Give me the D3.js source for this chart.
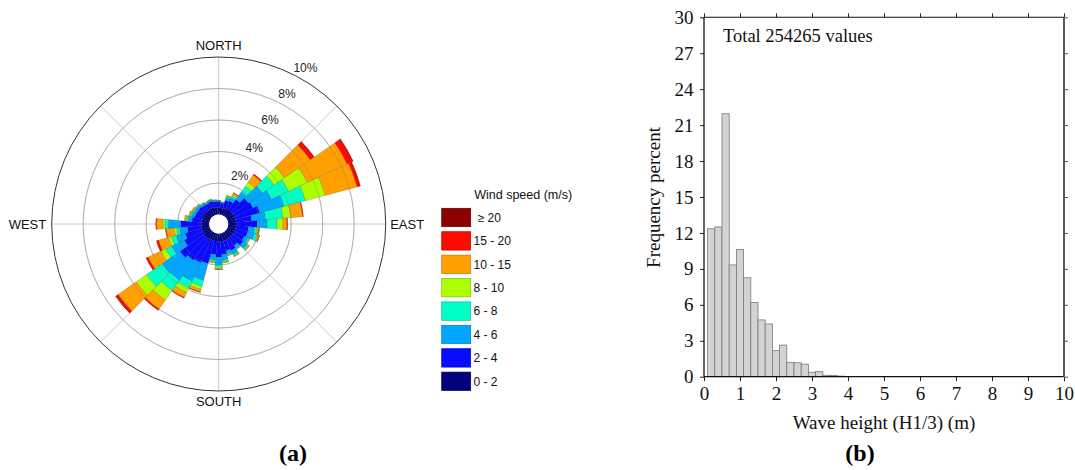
<!DOCTYPE html>
<html><head><meta charset="utf-8">
<script src="https://cdn.jsdelivr.net/npm/d3@7/dist/d3.min.js"></script>
<style>body{margin:0;background:#fff}svg{display:block}</style>
</head><body>
<svg id="c" width="1075" height="470"></svg>
<script>
// ---------- Wind rose data (percent per direction & speed class) ----------
const directions = [0,10,20,30,40,50,60,70,80,90,100,110,120,130,140,150,160,170,180,190,200,210,220,230,240,250,260,270,280,290,300,310,320,330,340,350];
const speedLabels = ["0 - 2","2 - 4","4 - 6","6 - 8","8 - 10","10 - 15","15 - 20","\u2265 20"];
const speedColors = ["#00007f","#0a0aff","#00a6ff","#00ffc4","#adff00","#ffa000","#ff0a00","#8c0000"];
const spd0_2   = [0.45,0.42,0.45,0.45,0.5,0.5,0.5,0.5,0.5,0.5,0.5,0.5,0.5,0.5,0.48,0.5,0.5,0.5,0.5,0.5,0.5,0.5,0.55,0.55,0.5,0.5,0.5,0.5,0.5,0.48,0.5,0.5,0.48,0.5,0.5,0.45];
const spd2_4   = [0.35,0.32,0.5,0.55,0.8,1.2,1.3,1.6,1.0,1.34,0.8,0.8,0.7,0.8,0.6,0.75,0.65,0.85,1.0,0.85,1.5,1.6,1.65,1.85,1.3,1.1,0.9,1.3,0.6,0.5,0.45,0.45,0.4,0.35,0.4,0.38];
const spd4_6   = [0.07,0.06,0.18,0.25,0.6,1.1,1.3,1.6,0.9,0.63,0.4,0.45,0.25,0.3,0.2,0.28,0.22,0.35,0.5,0.35,1.1,1.3,1.55,1.4,0.9,0.6,0.5,0.8,0.25,0.2,0.18,0.15,0.12,0.1,0.1,0.08];
const spd6_8   = [0.02,0.02,0.07,0.12,0.45,0.9,1.2,1.4,1.1,0.63,0.15,0.17,0.08,0.1,0.06,0.09,0.07,0.1,0.15,0.1,0.4,0.5,0.8,1.2,0.4,0.3,0.2,0.2,0.1,0.08,0.07,0.05,0.04,0.03,0.03,0.03];
const spd8_10  = [0.01,0,0.04,0.08,0.3,0.8,1.3,1.3,0.5,0.38,0.05,0.06,0.03,0.04,0.02,0.04,0.03,0.05,0.07,0.05,0.2,0.3,0.75,0.8,0.35,0.2,0.15,0.15,0.05,0.04,0.04,0.03,0.02,0.02,0.02,0.01];
const spd10_15 = [0,0,0.06,0.13,0.55,2.0,2.8,2.1,0.75,0.25,0.08,0.1,0.04,0.06,0.02,0.04,0.03,0.05,0.06,0.05,0.17,0.35,0.7,1.4,0.9,0.65,0.5,0.4,0.1,0.08,0.06,0.02,0.02,0,0,0];
const spd15_20 = [0,0,0,0.02,0.08,0.3,0.4,0.2,0.05,0.05,0.02,0.02,0,0,0,0,0,0,0.02,0,0.03,0.05,0.1,0.18,0.15,0.15,0.05,0.05,0,0,0,0,0,0,0,0];
const spd20up  = [0,0,0,0,0,0.01,0.02,0.01,0,0,0,0,0,0,0,0,0,0,0,0,0,0,0,0.02,0,0,0,0,0,0,0,0,0,0,0,0];
const ringTicks = [2,4,6,8,10];
const spokeAngles = [0,45,90,135,180,225,270,315];

// ---------- Histogram data ----------
const waveBinStarts = [0.1,0.3,0.5,0.7,0.9,1.1,1.3,1.5,1.7,1.9,2.1,2.3,2.5,2.7,2.9,3.1,3.3,3.5,3.7,3.9];
const waveFreq      = [12.35,12.5,21.95,9.33,10.62,8.26,6.2,4.74,4.4,2.19,2.64,1.2,1.16,1.05,0.37,0.42,0.12,0.11,0.05,0.02];
const waveBinWidth = 0.2;
const xTicks = [0,1,2,3,4,5,6,7,8,9,10];
const yTicks = [0,3,6,9,12,15,18,21,24,27,30];

const svg = d3.select("#c");

// ================= (a) Wind rose =================
const cx = 218.7, cy = 224;
const r = d3.scaleLinear().domain([0,10]).range([9.5,167]);
const rose = svg.append("g").attr("transform",`translate(${cx},${cy})`);
const series = [spd0_2,spd2_4,spd4_6,spd6_8,spd8_10,spd10_15,spd15_20,spd20up];
const segs = [];
directions.forEach((dir,i)=>{
  let cum = 0;
  series.forEach((s,k)=>{ const a = cum; cum += s[i]; if (s[i]>0) segs.push({dir,k,a,b:cum}); });
});
const rad = Math.PI/180;
const arc = d3.arc()
  .innerRadius(d=>r(d.a)).outerRadius(d=>r(d.b))
  .startAngle(d=>(d.dir-5)*rad).endAngle(d=>(d.dir+5)*rad);

// spokes and rings (under bars)
rose.selectAll("line.spoke").data(spokeAngles).join("line")
  .attr("x1",0).attr("y1",0)
  .attr("x2",d=>r(10)*Math.sin(d*rad)).attr("y2",d=>-r(10)*Math.cos(d*rad))
  .attr("stroke","#c4c4c4").attr("stroke-width",0.9);
rose.selectAll("circle.ringU").data(ringTicks.slice(0,4)).join("circle")
  .attr("r",d=>r(d)).attr("fill","none").attr("stroke","#c4c4c4").attr("stroke-width",0.9);

rose.selectAll("path.bar").data(segs).join("path")
  .attr("d",arc).attr("fill",d=>speedColors[d.k])
  .attr("stroke","rgba(0,0,0,0.28)").attr("stroke-width",0.5);

// rings faintly over bars
rose.selectAll("circle.ring").data(ringTicks).join("circle")
  .attr("r",d=>r(d)).attr("fill","none")
  .attr("stroke",d=>d===10?"#333":"rgba(120,120,120,0.4)")
  .attr("stroke-width",d=>d===10?1:0.8);
rose.append("circle").attr("r",r(0)).attr("fill","#fff");

rose.selectAll("text.ring").data(ringTicks).join("text")
  .attr("x",d=>(r(d)+12)*Math.sin((22+0.7*d)*rad))
  .attr("y",d=>-(r(d)+12)*Math.cos((22+0.7*d)*rad))
  .attr("dy","0.35em").attr("text-anchor","middle")
  .attr("font-family","Liberation Sans, Arial, sans-serif").attr("font-size",12).attr("fill","#222")
  .text(d=>d+"%");

const compassText = [
  {t:"NORTH",x:0,y:-174,a:"middle"},
  {t:"EAST",x:171.5,y:5,a:"start"},
  {t:"SOUTH",x:0,y:182,a:"middle"},
  {t:"WEST",x:-172.5,y:5,a:"end"}];
rose.selectAll("text.cmp").data(compassText).join("text")
  .attr("x",d=>d.x).attr("y",d=>d.y).attr("text-anchor",d=>d.a)
  .attr("font-family","Liberation Sans, Arial, sans-serif").attr("font-size",13).attr("fill","#111")
  .text(d=>d.t);

// legend
const leg = svg.append("g").attr("transform","translate(441.7,208.3)");
leg.append("text").attr("x",81.5).attr("y",-9.5).attr("text-anchor","middle")
  .attr("font-family","Liberation Sans, Arial, sans-serif").attr("font-size",12.5).attr("fill","#111")
  .text("Wind speed (m/s)");
const legOrder = d3.range(speedLabels.length).reverse();
const li = leg.selectAll("g.li").data(legOrder).join("g").attr("transform",(d,i)=>`translate(0,${i*23.4})`);
li.append("rect").attr("width",29).attr("height",18.4)
  .attr("fill",d=>speedColors[d]).attr("stroke",d=>d3.color(speedColors[d]).darker(0.8)).attr("stroke-width",0.7);
li.append("text").attr("x",d=>d===7?36:31.8).attr("y",13.5)
  .attr("font-family","Liberation Sans, Arial, sans-serif").attr("font-size",12).attr("fill","#111")
  .text(d=>speedLabels[d]);

// ================= (b) Histogram =================
const x = d3.scaleLinear().domain([0,10]).range([704,1064]);
const y = d3.scaleLinear().domain([0,30]).range([376.7,17.3]);
const serif = "Liberation Serif, Times New Roman, serif";

svg.append("g").selectAll("rect").data(waveBinStarts).join("rect")
  .attr("x",d=>x(d)).attr("width",d=>x(d+waveBinWidth)-x(d))
  .attr("y",(d,i)=>y(waveFreq[i])).attr("height",(d,i)=>y(0)-y(waveFreq[i]))
  .attr("fill","#d3d3d3").attr("stroke","#7a7a7a").attr("stroke-width",0.8);

const axL = svg.append("g").attr("transform",`translate(${x(0)},0)`)
  .call(d3.axisLeft(y).tickValues(yTicks).tickSize(4).tickPadding(6.5));
const axB = svg.append("g").attr("transform",`translate(0,${y(0)})`)
  .call(d3.axisBottom(x).tickValues(xTicks).tickSize(4.5).tickPadding(5));
const axT = svg.append("g").attr("transform",`translate(0,${y(30)})`)
  .call(d3.axisTop(x).tickValues(xTicks).tickSize(4).tickFormat(""));
const axR = svg.append("g").attr("transform",`translate(${x(10)},0)`)
  .call(d3.axisRight(y).tickValues(yTicks).tickSize(4).tickFormat(""));
[axL,axB,axT,axR].forEach(a=>{
  a.select(".domain").remove();
  a.selectAll("text").attr("font-family",serif).attr("font-size",19).attr("fill","#111");
  a.selectAll("line").attr("stroke","#222");
});
axR.selectAll("line").attr("stroke","#555");
// frame
svg.append("line").attr("x1",x(0)).attr("x2",x(0)).attr("y1",y(30)).attr("y2",y(0)).attr("stroke","#111").attr("stroke-width",1.3);
svg.append("line").attr("x1",x(0)).attr("x2",x(10)).attr("y1",y(0)).attr("y2",y(0)).attr("stroke","#111").attr("stroke-width",1.3);
svg.append("line").attr("x1",x(0)).attr("x2",x(10)).attr("y1",y(30)).attr("y2",y(30)).attr("stroke","#111").attr("stroke-width",1.1);
svg.append("line").attr("x1",x(10)).attr("x2",x(10)).attr("y1",y(30)).attr("y2",y(0)).attr("stroke","#555").attr("stroke-width",2);

svg.append("text").attr("x",723).attr("y",41.5).attr("font-family",serif).attr("font-size",18.5).attr("fill","#111")
  .text("Total 254265 values");
svg.append("text").attr("transform","translate(659.5,197.5) rotate(-90)").attr("text-anchor","middle")
  .attr("font-family",serif).attr("font-size",19).attr("fill","#111").text("Frequency percent");
svg.append("text").attr("x",884).attr("y",428.5).attr("text-anchor","middle")
  .attr("font-family",serif).attr("font-size",19).attr("fill","#111").text("Wave height (H1/3) (m)");

// panel labels
svg.append("text").attr("x",293).attr("y",461).attr("text-anchor","middle")
  .attr("font-family",serif).attr("font-weight","bold").attr("font-size",24).text("(a)");
svg.append("text").attr("x",860).attr("y",461).attr("text-anchor","middle")
  .attr("font-family",serif).attr("font-weight","bold").attr("font-size",24).text("(b)");
</script>
</body></html>
